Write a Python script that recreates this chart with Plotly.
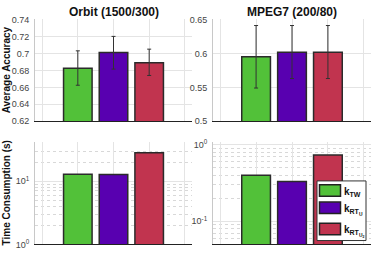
import plotly.graph_objects as go

methods = ["k<sub>TW</sub>", "k<sub>RT<sub>U</sub></sub>", "k<sub>RT<sub>U<sub>2</sub></sub></sub>"]
colors = ["#52c139", "#5800b0", "#c1344f"]
xpos = [1, 2, 3]

orbit_acc = [0.6825, 0.701, 0.689]
orbit_err_plus = [0.0205, 0.019, 0.016]
orbit_err_minus = [0.0200, 0.0195, 0.015]

mpeg_acc = [0.595, 0.6015, 0.6015]
mpeg_err_plus = [0.046, 0.0395, 0.0395]
mpeg_err_minus = [0.046, 0.0385, 0.0385]

orbit_time = [12.9, 12.8, 28.2]
mpeg_time = [0.40, 0.33, 0.735]

fig = go.Figure()
edge = dict(color="#2b2b2b", width=1.5)
errstyle = dict(type="data", color="#333333", thickness=1, width=2)

for i in range(3):
    fig.add_trace(go.Bar(x=[xpos[i]], y=[orbit_acc[i]], width=0.8, marker=dict(color=colors[i], line=edge),
                         error_y=dict(array=[orbit_err_plus[i]], arrayminus=[orbit_err_minus[i]], **errstyle),
                         xaxis="x", yaxis="y", showlegend=False))
    fig.add_trace(go.Bar(x=[xpos[i]], y=[mpeg_acc[i]], width=0.8, marker=dict(color=colors[i], line=edge),
                         error_y=dict(array=[mpeg_err_plus[i]], arrayminus=[mpeg_err_minus[i]], **errstyle),
                         xaxis="x2", yaxis="y2", showlegend=False))
    fig.add_trace(go.Bar(x=[xpos[i]], y=[orbit_time[i]], width=0.8, marker=dict(color=colors[i], line=edge),
                         xaxis="x3", yaxis="y3", showlegend=False))
    fig.add_trace(go.Bar(x=[xpos[i]], y=[mpeg_time[i]], width=0.8, marker=dict(color=colors[i], line=edge),
                         xaxis="x4", yaxis="y4", name=methods[i], showlegend=False))

W, H = 374, 259
dx1 = [35 / W, 192 / W]
dx2 = [213 / W, 371 / W]
dyt = [1 - 121 / H, 1 - 15 / H]
dyb = [1 - 249 / H, 1 - 143 / H]

grid = "#e4e4e4"
tickfont = dict(family="Liberation Sans, Arial", size=9, color="#444444")

def xax(dom, anchor):
    return dict(domain=dom, anchor=anchor, range=[-0.2, 4.2], tickvals=[0, 1, 2, 3, 4], showticklabels=False,
                showgrid=True, gridcolor=grid, gridwidth=1, zeroline=False, showline=True, linecolor="#222222",
                linewidth=1, ticks="", fixedrange=True)

def yax(dom, anchor, **kw):
    d = dict(domain=dom, anchor=anchor, showgrid=True, gridcolor=grid, gridwidth=1, zeroline=False,
             showline=True, linecolor="#c8c8c8", linewidth=1, ticks="", tickfont=tickfont, ticklabelstandoff=3,
             fixedrange=True)
    d.update(kw)
    return d

minor_style = dict(showgrid=True, gridcolor="#d8d8d8", griddash="dot", gridwidth=1, ticks="")

fig.update_layout(
    width=W, height=H, margin=dict(l=0, r=0, t=0, b=0),
    paper_bgcolor="white", plot_bgcolor="white",
    barmode="overlay", showlegend=False, hovermode=False,
    xaxis=xax(dx1, "y"), xaxis2=xax(dx2, "y2"), xaxis3=xax(dx1, "y3"), xaxis4=xax(dx2, "y4"),
    yaxis=yax(dyt, "x", range=[0.62, 0.74], tickvals=[0.62, 0.64, 0.66, 0.68, 0.7, 0.72, 0.74]),
    yaxis2=yax(dyt, "x2", range=[0.5, 0.65], tickvals=[0.5, 0.55, 0.6, 0.65]),
    yaxis3=yax(dyb, "x3", type="log", range=[0, 1.613], tickvals=[1, 10],
               ticktext=["10<sup>0</sup>", "10<sup>1</sup>"],
               minor=dict(tickvals=[2, 3, 4, 5, 6, 7, 8, 9, 20, 30, 40], **minor_style)),
    yaxis4=yax(dyb, "x4", type="log", range=[-1.303, 0.03], tickvals=[0.1, 1],
               ticktext=["10<sup>-1</sup>", "10<sup>0</sup>"],
               minor=dict(tickvals=[0.06, 0.07, 0.08, 0.09, 0.2, 0.3, 0.4, 0.5, 0.6, 0.7, 0.8, 0.9], **minor_style)),
)

tfont = dict(family="Liberation Sans, Arial", size=12, color="#111111")
fig.add_annotation(text="<b>Orbit (1500/300)</b>", x=(dx1[0] + dx1[1]) / 2, y=1 - 7 / H, xref="paper", yref="paper",
                   showarrow=False, font=tfont, xanchor="center", yanchor="middle")
fig.add_annotation(text="<b>MPEG7 (200/80)</b>", x=(dx2[0] + dx2[1]) / 2, y=1 - 7 / H, xref="paper", yref="paper",
                   showarrow=False, font=tfont, xanchor="center", yanchor="middle")
afont = dict(family="Liberation Sans, Arial", size=10, color="#111111")
fig.add_annotation(text="<b>Average Accuracy</b>", x=6 / W, y=1 - 68 / H, xref="paper", yref="paper",
                   showarrow=False, font=afont, textangle=-90, xanchor="center", yanchor="middle")
fig.add_annotation(text="<b>Time Consumption (s)</b>", x=6 / W, y=1 - 196 / H, xref="paper", yref="paper",
                   showarrow=False, font=afont, textangle=-90, xanchor="center", yanchor="middle")

# legend (drawn manually to match the compact boxed legend)
lg_box = (317, 183, 366, 245)
fig.add_shape(type="rect", xref="paper", yref="paper",
              x0=lg_box[0] / W, x1=lg_box[2] / W, y0=1 - lg_box[3] / H, y1=1 - lg_box[1] / H,
              line=dict(color="#333333", width=1), fillcolor="white", layer="above")
sw_tops = [187, 205, 227]
lfont = dict(family="Liberation Sans, Arial", size=10, color="#111111")
for i in range(3):
    t = sw_tops[i]
    fig.add_shape(type="rect", xref="paper", yref="paper",
                  x0=319.5 / W, x1=340.5 / W, y0=1 - (t + 12) / H, y1=1 - t / H,
                  line=dict(color="#222222", width=1.5), fillcolor=colors[i], layer="above")
    fig.add_annotation(text="<b>" + methods[i] + "</b>", x=342 / W, y=1 - (t - 1) / H, xref="paper", yref="paper",
                       showarrow=False, font=lfont, xanchor="left", yanchor="top")

fig.write_html("out.html", config={"displayModeBar": False, "staticPlot": True},
               post_script="document.body.style.margin='0';document.body.style.overflow='hidden';")
